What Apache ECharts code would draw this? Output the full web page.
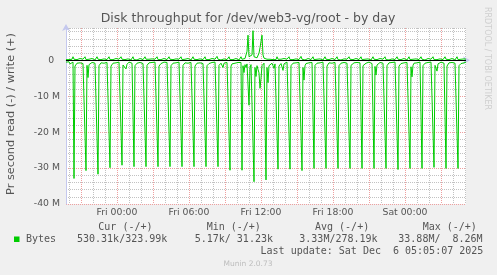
<!DOCTYPE html>
<html><head><meta charset="utf-8">
<script src="https://cdn.jsdelivr.net/npm/echarts@6/dist/echarts.min.js"></script>
<style>html,body{margin:0;padding:0;background:#f0f0f0;}#c{width:497px;height:275px;}</style>
</head><body><div id="c"></div>
<script>
// 5-minute samples from Thu 19:45 to Sat 05:05 (values in MB/s)
const startMinutes = 19 * 60 + 45;
const stepMinutes = 5;
const dayNames = ['Thu', 'Fri', 'Sat'];
const tickLabels = ['Fri 00:00', 'Fri 06:00', 'Fri 12:00', 'Fri 18:00', 'Sat 00:00'];

// read (plotted negative), magnitudes in M
const readMB = [
  0.5, 0.9, 0.6,                                                  // Thu 19:45-55
  0.4, 1.0, 0.6, 0.8, 0.5, 32.9, 1.6, 1.1, 0.8, 0.6, 1.2, 0.7,    // Thu 20
  0.6, 0.5, 0.9, 0.6, 0.4, 30.7, 1.4, 4.8, 1.2, 0.7, 0.9, 0.6,    // Thu 21
  0.7, 0.5, 0.8, 0.6, 0.5, 31.7, 1.5, 1.0, 0.7, 1.1, 0.6, 0.8,    // Thu 22
  0.5, 0.9, 0.6, 0.7, 0.4, 29.9, 1.6, 1.2, 0.8, 0.6, 1.0, 0.7,    // Thu 23
  0.6, 0.8, 0.5, 0.9, 0.5, 29.2, 1.3, 1.0, 1.4, 2.4, 1.1, 0.7,    // Fri 00
  0.5, 0.7, 0.6, 0.8, 0.4, 29.6, 1.5, 1.1, 0.8, 0.6, 1.0, 0.6,    // Fri 01
  0.7, 0.5, 0.9, 0.6, 0.5, 29.6, 1.4, 1.0, 0.7, 1.2, 0.8, 0.6,    // Fri 02
  0.6, 0.8, 0.5, 0.7, 0.4, 29.6, 1.6, 1.2, 0.9, 0.7, 1.0, 0.5,    // Fri 03
  0.5, 0.9, 0.6, 0.7, 0.5, 29.6, 1.5, 1.0, 0.8, 0.6, 1.1, 0.7,    // Fri 04
  0.6, 0.7, 0.5, 0.8, 0.4, 29.6, 1.4, 1.1, 0.7, 0.9, 0.6, 0.8,    // Fri 05
  0.5, 0.8, 0.6, 0.7, 0.5, 29.6, 1.6, 1.2, 0.8, 0.6, 1.0, 0.7,    // Fri 06
  0.7, 0.5, 0.9, 0.6, 0.4, 29.6, 1.5, 1.0, 0.9, 0.7, 1.1, 0.6,    // Fri 07
  0.6, 0.8, 0.5, 0.7, 0.5, 29.6, 1.4, 1.1, 0.8, 1.3, 2.0, 0.8,    // Fri 08
  0.5, 0.7, 0.6, 0.9, 0.4, 30.6, 1.6, 1.0, 0.7, 1.2, 0.8, 0.6,    // Fri 09
  0.7, 0.6, 0.8, 0.5, 0.6, 30.6, 1.5, 3.4, 1.2, 2.0, 1.0, 1.5,    // Fri 10
  12.5, 2.0, 1.2, 1.5, 0.8, 33.8, 2.0, 4.5, 1.5, 2.5, 3.5, 7.8,   // Fri 11
  5.0, 1.5, 1.0, 0.8, 0.6, 33.3, 2.0, 6.2, 1.5, 2.0, 1.2, 0.8,    // Fri 12
  1.5, 2.2, 1.0, 1.2, 0.8, 30.3, 1.6, 1.2, 0.9, 1.3, 2.8, 1.0,    // Fri 13
  0.6, 0.8, 0.5, 0.9, 0.5, 30.3, 1.5, 1.1, 0.8, 0.6, 1.0, 0.7,    // Fri 14
  0.5, 0.7, 0.6, 0.8, 0.4, 30.7, 2.0, 5.5, 1.5, 0.9, 1.1, 0.6,    // Fri 15
  0.7, 0.5, 0.9, 0.6, 0.5, 30.1, 1.4, 1.0, 0.8, 0.6, 1.2, 0.7,    // Fri 16
  0.6, 0.8, 0.5, 0.7, 0.4, 30.1, 1.6, 1.1, 0.7, 0.9, 0.6, 0.8,    // Fri 17
  0.5, 0.7, 0.6, 0.8, 0.5, 30.1, 1.5, 1.2, 0.8, 0.6, 1.0, 0.6,    // Fri 18
  0.7, 0.6, 0.8, 0.5, 0.4, 30.1, 1.4, 1.0, 0.9, 0.7, 1.1, 0.7,    // Fri 19
  0.6, 0.8, 0.5, 0.7, 0.5, 30.1, 1.5, 1.1, 1.9, 0.8, 0.6, 0.7,    // Fri 20
  0.5, 0.7, 0.6, 0.9, 0.4, 30.1, 1.7, 4.1, 1.3, 0.8, 1.0, 0.6,    // Fri 21
  0.7, 0.5, 0.8, 0.6, 0.5, 30.1, 1.5, 1.0, 0.7, 1.1, 0.8, 0.6,    // Fri 22
  0.6, 0.8, 0.5, 0.7, 0.4, 30.4, 1.6, 1.2, 0.9, 0.6, 1.0, 0.7,    // Fri 23
  0.5, 0.7, 0.6, 0.8, 0.5, 30.1, 1.8, 4.6, 1.4, 0.8, 1.1, 0.6,    // Sat 00
  0.7, 0.6, 0.9, 0.5, 0.4, 30.1, 1.5, 1.0, 0.8, 0.7, 1.0, 0.6,    // Sat 01
  0.6, 0.8, 0.5, 0.7, 0.5, 29.8, 1.4, 1.2, 3.0, 1.0, 0.8, 0.7,    // Sat 02
  0.5, 0.7, 0.6, 0.8, 0.4, 30.1, 1.6, 1.1, 0.7, 0.9, 1.0, 0.6,    // Sat 03
  0.7, 0.5, 0.8, 0.6, 0.5, 30.1, 1.5, 1.0, 0.9, 0.6, 1.1, 0.7,    // Sat 04
  0.5, 0.53                                                       // Sat 05:00-05
];

// write (plotted positive), in M
const writeMB = [
  0.2, 0.3, 0.4,                                                  // Thu 19:45-55
  0.2, 0.3, 0.1, 0.3, 1.0, 0.3, 0.2, 0.1, 0.2, 0.2, 0.3, 0.5,     // Thu 20
  0.2, 0.1, 0.3, 0.2, 1.0, 0.2, 0.1, 0.2, 0.3, 0.1, 0.2, 0.5,     // Thu 21
  0.3, 0.2, 0.1, 0.3, 1.0, 0.3, 0.2, 0.1, 0.2, 0.3, 0.1, 0.4,     // Thu 22
  0.2, 0.3, 0.2, 0.1, 1.0, 0.2, 0.1, 0.3, 0.2, 0.1, 0.2, 0.5,     // Thu 23
  0.1, 0.2, 0.3, 0.2, 1.0, 0.3, 0.2, 0.1, 0.2, 0.3, 0.2, 0.4,     // Fri 00
  0.2, 0.3, 0.1, 0.2, 1.0, 0.2, 0.3, 0.2, 0.1, 0.2, 0.3, 0.5,     // Fri 01
  0.3, 0.1, 0.2, 0.3, 1.0, 0.3, 0.1, 0.2, 0.3, 0.1, 0.2, 0.4,     // Fri 02
  0.2, 0.2, 0.3, 0.1, 1.0, 0.2, 0.2, 0.1, 0.2, 0.3, 0.1, 0.5,     // Fri 03
  0.1, 0.3, 0.2, 0.2, 1.0, 0.3, 0.1, 0.3, 0.2, 0.1, 0.2, 0.4,     // Fri 04
  0.2, 0.1, 0.3, 0.2, 1.0, 0.2, 0.2, 0.1, 0.3, 0.2, 0.3, 0.5,     // Fri 05
  0.3, 0.2, 0.1, 0.3, 1.0, 0.3, 0.1, 0.2, 0.2, 0.1, 0.2, 0.4,     // Fri 06
  0.2, 0.3, 0.2, 0.1, 1.0, 0.2, 0.3, 0.1, 0.2, 0.3, 0.1, 0.5,     // Fri 07
  0.1, 0.2, 0.3, 0.2, 1.1, 0.3, 0.2, 0.2, 0.1, 0.2, 0.3, 0.4,     // Fri 08
  0.2, 0.1, 0.2, 0.3, 1.0, 0.2, 0.1, 0.3, 0.2, 0.1, 0.2, 0.5,     // Fri 09
  0.3, 0.2, 0.1, 0.2, 1.0, 0.3, 0.4, 0.8, 0.5, 1.0, 2.5, 7.0,     // Fri 10
  1.0, 0.5, 0.8, 1.5, 8.26, 1.0, 0.6, 0.9, 0.7, 1.2, 2.0, 3.5,    // Fri 11
  4.0, 7.0, 1.5, 0.6, 1.0, 0.4, 0.3, 0.5, 0.2, 0.3, 0.6, 0.2,     // Fri 12
  0.2, 0.3, 0.1, 0.2, 1.0, 0.3, 0.2, 0.1, 0.3, 0.2, 0.1, 0.5,     // Fri 13
  0.1, 0.2, 0.3, 0.2, 1.0, 0.2, 0.1, 0.2, 0.2, 0.3, 0.2, 0.4,     // Fri 14
  0.2, 0.3, 0.2, 0.1, 1.1, 0.3, 0.2, 0.3, 0.1, 0.2, 0.1, 0.5,     // Fri 15
  0.3, 0.1, 0.2, 0.3, 1.0, 0.2, 0.1, 0.2, 0.3, 0.1, 0.2, 0.4,     // Fri 16
  0.2, 0.2, 0.1, 0.2, 1.0, 0.3, 0.3, 0.1, 0.2, 0.2, 0.3, 0.5,     // Fri 17
  0.1, 0.3, 0.2, 0.1, 1.0, 0.2, 0.2, 0.3, 0.1, 0.2, 0.1, 0.4,     // Fri 18
  0.2, 0.1, 0.3, 0.2, 1.0, 0.3, 0.1, 0.2, 0.2, 0.3, 0.2, 0.5,     // Fri 19
  0.3, 0.2, 0.2, 0.1, 1.0, 0.2, 0.2, 0.1, 0.3, 0.1, 0.2, 0.4,     // Fri 20
  0.2, 0.3, 0.1, 0.2, 1.0, 0.3, 0.1, 0.3, 0.2, 0.2, 0.1, 0.5,     // Fri 21
  0.1, 0.2, 0.3, 0.2, 1.0, 0.2, 0.3, 0.2, 0.1, 0.3, 0.2, 0.4,     // Fri 22
  0.2, 0.1, 0.2, 0.3, 1.0, 0.3, 0.2, 0.1, 0.2, 0.1, 0.3, 0.5,     // Fri 23
  0.3, 0.2, 0.1, 0.2, 1.0, 0.2, 0.1, 0.2, 0.3, 0.2, 0.1, 0.4,     // Sat 00
  0.2, 0.3, 0.2, 0.1, 1.0, 0.3, 0.2, 0.3, 0.1, 0.2, 0.2, 0.5,     // Sat 01
  0.1, 0.2, 0.3, 0.2, 1.0, 0.2, 0.3, 0.1, 0.2, 0.3, 0.1, 0.4,     // Sat 02
  0.2, 0.1, 0.2, 0.3, 1.0, 0.3, 0.1, 0.2, 0.2, 0.1, 0.2, 0.5,     // Sat 03
  0.3, 0.2, 0.1, 0.2, 1.0, 0.2, 0.2, 0.1, 0.3, 0.2, 0.3, 0.4,     // Sat 04
  0.3, 0.32                                                       // Sat 05:00-05
];

const legendHeaders = ['Cur (-/+)', 'Min (-/+)', 'Avg (-/+)', 'Max (-/+)'];
const legendValues = ['530.31k/323.99k', '5.17k/ 31.23k', '3.33M/278.19k', '33.88M/  8.26M'];
const seriesName = 'Bytes';
const lastUpdate = 'Last update: Sat Dec  6 05:05:07 2025';
const titleText = 'Disk throughput for /dev/web3-vg/root - by day';
const yTitle = 'Pr second read (-) / write (+)';

const pad = n => (n < 10 ? '0' : '') + n;
const categories = readMB.map((_, i) => {
  const tot = startMinutes + i * stepMinutes;
  const d = dayNames[Math.floor(tot / 1440)];
  const m = tot % 1440;
  return d + ' ' + pad(Math.floor(m / 60)) + ':' + pad(m % 60);
});
const minuteOf = c => c.slice(-2);
const hourOf = c => parseInt(c.slice(-5, -3), 10);

const GREEN = '#00cc00';
const AXIS = '#c4c8ee';
const TXT = '#555555';
const MINOR = '#c2c2c2';
const MAJOR = '#eea0a0';
const SANS = 'DejaVu Sans';
const MONO = 'DejaVu Sans Mono';

const chart = echarts.init(document.getElementById('c'), null, {renderer: 'canvas'});

const colHeaderX = [98.3, 206.7, 315, 422.7];
const colValueX = [77, 194.7, 299.3, 398.3];
const graphics = [
  {type: 'text', x: 248, y: 19, style: {text: titleText, font: '12.5px "' + SANS + '"', fill: TXT, align: 'center', verticalAlign: 'middle'}},
  {type: 'text', x: 11, y: 114, rotation: Math.PI / 2, style: {text: yTitle, font: '11.3px "' + SANS + '"', fill: TXT, align: 'center', verticalAlign: 'middle'}},
  {type: 'text', x: 487.5, y: 58.5, rotation: -Math.PI / 2, style: {text: 'RRDTOOL / TOBI OETIKER', font: '8px "' + SANS + '"', fill: '#cfcfcf', align: 'center', verticalAlign: 'middle'}},
  {type: 'rect', shape: {x: 14, y: 236.5, width: 5.5, height: 5.5}, style: {fill: GREEN}},
  {type: 'text', x: 26, y: 239.7, style: {text: seriesName, font: '10px "' + MONO + '"', fill: TXT, align: 'left', verticalAlign: 'middle'}},
  {type: 'text', x: 483.3, y: 251.7, style: {text: lastUpdate, font: '10px "' + MONO + '"', fill: TXT, align: 'right', verticalAlign: 'middle'}},
  {type: 'text', x: 248, y: 264.3, style: {text: 'Munin 2.0.73', font: '7.5px "' + SANS + '"', fill: '#bdbdbd', align: 'center', verticalAlign: 'middle'}}
];
legendHeaders.forEach((t, i) => graphics.push({type: 'text', x: colHeaderX[i], y: 227.7, style: {text: t, font: '10px "' + MONO + '"', fill: TXT, align: 'left', verticalAlign: 'middle'}}));
legendValues.forEach((t, i) => graphics.push({type: 'text', x: colValueX[i], y: 239.7, style: {text: t, font: '10px "' + MONO + '"', fill: TXT, align: 'left', verticalAlign: 'middle'}}));

const option = {
  animation: false,
  backgroundColor: '#f0f0f0',
  grid: {left: 66, right: 31, top: 28, bottom: 71, show: true, backgroundColor: '#ffffff', borderWidth: 0},
  xAxis: [
    {
      type: 'category', data: categories, boundaryGap: false, position: 'bottom',
      axisLine: {show: true, lineStyle: {color: AXIS, width: 1}, symbol: ['none', 'arrow'], symbolSize: [6, 7], symbolOffset: [0, 4]},
      axisTick: {show: false},
      axisLabel: {
        interval: (i, v) => tickLabels.indexOf(v) >= 0,
        color: TXT, fontFamily: SANS, fontSize: 9.3, margin: 4
      },
      splitLine: {
        show: true,
        interval: (i, v) => minuteOf(v) === '00' && hourOf(v) % 3 !== 0,
        lineStyle: {color: MINOR, width: 1, type: [1, 1]}
      }
    },
    {
      type: 'category', data: categories, boundaryGap: false, position: 'bottom',
      axisLine: {show: false}, axisTick: {show: false}, axisLabel: {show: false},
      splitLine: {
        show: true,
        interval: (i, v) => minuteOf(v) === '00' && hourOf(v) % 3 === 0,
        lineStyle: {color: MAJOR, width: 1, type: [1, 1]}
      }
    }
  ],
  yAxis: [
    {
      type: 'value', position: 'left', min: -40e6, max: 9e6, interval: 2e6,
      axisLine: {show: false}, axisTick: {show: false}, axisLabel: {show: false},
      splitLine: {show: true, lineStyle: {color: MINOR, width: 1, type: [1, 1]}}
    },
    {
      type: 'value', position: 'left', min: -40e6, max: 9e6, interval: 10e6,
      axisLine: {show: true, lineStyle: {color: AXIS, width: 1}, symbol: ['none', 'arrow'], symbolSize: [6, 7], symbolOffset: [0, 4]},
      axisTick: {show: false},
      axisLabel: {
        showMaxLabel: false,
        formatter: v => (v === 0 ? '0  ' : (v / 1e6) + ' M'),
        color: TXT, fontFamily: SANS, fontSize: 9.3, margin: 6
      },
      splitLine: {show: true, lineStyle: {color: [MAJOR, MAJOR, MAJOR, MAJOR, MAJOR, MINOR], width: 1, type: [1, 1]}}
    }
  ],
  graphic: graphics,
  series: [
    {
      name: 'read', type: 'line', xAxisIndex: 0, yAxisIndex: 1,
      data: readMB.map(v => -v * 1e6),
      showSymbol: false, symbol: 'none',
      lineStyle: {color: GREEN, width: 1}, itemStyle: {color: GREEN}
    },
    {
      name: 'write', type: 'line', xAxisIndex: 0, yAxisIndex: 1,
      data: writeMB.map(v => v * 1e6),
      showSymbol: false, symbol: 'none',
      lineStyle: {color: GREEN, width: 1}, itemStyle: {color: GREEN},
      markLine: {
        silent: true, symbol: ['none', 'none'], label: {show: false},
        lineStyle: {color: '#000000', width: 1, type: 'solid'},
        data: [{yAxis: 0}]
      }
    }
  ]
};
chart.setOption(option);
</script>
</body></html>
